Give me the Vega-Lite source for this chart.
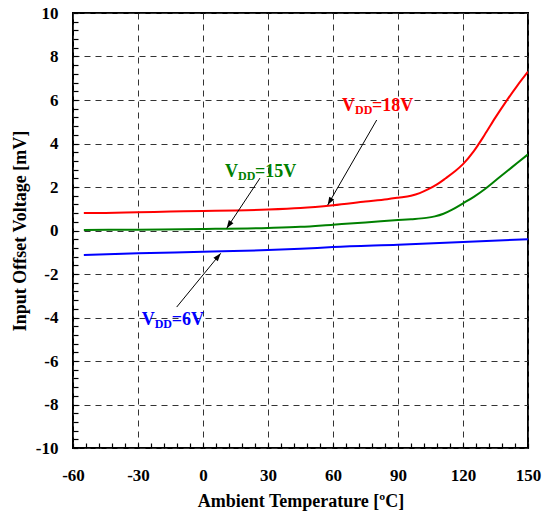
{
  "$schema": "https://vega.github.io/schema/vega-lite/v6.json",
  "width": 455,
  "height": 435,
  "autosize": {"type": "none"},
  "padding": {"left": 73, "top": 13, "right": 23, "bottom": 69},
  "background": "white",
  "config": {
    "view": {"stroke": "black", "strokeWidth": 2},
    "font": "Liberation Serif"
  },
  "datasets": {
    "curves": [
      {"series": "18V", "t": -55, "v": 0.80}, {"series": "18V", "t": -45, "v": 0.81}, {"series": "18V", "t": -30, "v": 0.84},
      {"series": "18V", "t": -15, "v": 0.87}, {"series": "18V", "t": 0, "v": 0.90}, {"series": "18V", "t": 15, "v": 0.92},
      {"series": "18V", "t": 30, "v": 0.96}, {"series": "18V", "t": 45, "v": 1.03}, {"series": "18V", "t": 60, "v": 1.16},
      {"series": "18V", "t": 75, "v": 1.33}, {"series": "18V", "t": 85, "v": 1.44}, {"series": "18V", "t": 90, "v": 1.51},
      {"series": "18V", "t": 96, "v": 1.60}, {"series": "18V", "t": 100, "v": 1.72}, {"series": "18V", "t": 104, "v": 1.90},
      {"series": "18V", "t": 108, "v": 2.12}, {"series": "18V", "t": 112, "v": 2.40}, {"series": "18V", "t": 116, "v": 2.70},
      {"series": "18V", "t": 120, "v": 3.05}, {"series": "18V", "t": 125, "v": 3.65}, {"series": "18V", "t": 130, "v": 4.40},
      {"series": "18V", "t": 135, "v": 5.20}, {"series": "18V", "t": 140, "v": 5.95}, {"series": "18V", "t": 145, "v": 6.65},
      {"series": "18V", "t": 150, "v": 7.30},
      {"series": "15V", "t": -55, "v": 0.02}, {"series": "15V", "t": -30, "v": 0.04}, {"series": "15V", "t": 0, "v": 0.07},
      {"series": "15V", "t": 30, "v": 0.12}, {"series": "15V", "t": 45, "v": 0.17}, {"series": "15V", "t": 60, "v": 0.27},
      {"series": "15V", "t": 75, "v": 0.37}, {"series": "15V", "t": 90, "v": 0.48}, {"series": "15V", "t": 96, "v": 0.52},
      {"series": "15V", "t": 103, "v": 0.58}, {"series": "15V", "t": 107, "v": 0.65}, {"series": "15V", "t": 111, "v": 0.77},
      {"series": "15V", "t": 115, "v": 0.96}, {"series": "15V", "t": 120, "v": 1.25}, {"series": "15V", "t": 125, "v": 1.55},
      {"series": "15V", "t": 130, "v": 1.90}, {"series": "15V", "t": 135, "v": 2.30}, {"series": "15V", "t": 140, "v": 2.70},
      {"series": "15V", "t": 145, "v": 3.10}, {"series": "15V", "t": 150, "v": 3.50},
      {"series": "6V", "t": -55, "v": -1.13}, {"series": "6V", "t": -30, "v": -1.05}, {"series": "6V", "t": 0, "v": -0.98},
      {"series": "6V", "t": 30, "v": -0.90}, {"series": "6V", "t": 45, "v": -0.84}, {"series": "6V", "t": 60, "v": -0.76},
      {"series": "6V", "t": 90, "v": -0.65}, {"series": "6V", "t": 120, "v": -0.53}, {"series": "6V", "t": 150, "v": -0.40}
    ],
    "labels": [
      {"series": "18V", "t": 64.15, "v": 5.49, "rest": "=18V"},
      {"series": "15V", "t": 10.15, "v": 2.47, "rest": "=15V"},
      {"series": "6V", "t": -28.3, "v": -4.34, "rest": "=6V"}
    ],
    "arrows": [
      {"series": "18V", "t": 80.17, "v": 5.08, "t2": 57.55, "v2": 1.17},
      {"series": "15V", "t": 26.31, "v": 2.41, "t2": 10.94, "v2": 0.10},
      {"series": "6V", "t": -12.14, "v": -3.52, "t2": 8.17, "v2": -1.05}
    ]
  },
  "layer": [
    {
      "data": {"name": "curves"},
      "mark": {"type": "line", "interpolate": "monotone", "strokeWidth": 2, "clip": true},
      "encoding": {
        "x": {
          "field": "t", "type": "quantitative", "title": "Ambient Temperature [ºC]",
          "scale": {"domain": [-60, 150], "nice": false, "zero": false},
          "axis": {
            "values": [-60,-54,-48,-42,-36,-30,-24,-18,-12,-6,0,6,12,18,24,30,36,42,48,54,60,66,72,78,84,90,96,102,108,114,120,126,132,138,144,150],
            "tickCount": 200,
            "labelExpr": "datum.value % 30 === 0 ? '' + datum.value : ''",
            "labelOverlap": false, "labelFlush": false,
            "labelFont": "Liberation Serif", "labelFontWeight": "bold", "labelFontSize": 17, "labelColor": "black",
            "labelPadding": 19,
            "domain": false,
            "offset": -5,
            "ticks": true, "tickSize": 5, "tickColor": "black", "tickWidth": 1.2,
            "grid": true, "gridColor": "#333333", "gridDash": [6, 5], "gridWidth": 1,
            "gridOpacity": {"condition": {"test": "datum.value % 30 === 0", "value": 1}, "value": 0},
            "titleFont": "Liberation Serif", "titleFontWeight": "bold", "titleFontSize": 18, "titleColor": "black",
            "titlePadding": 9
          }
        },
        "y": {
          "field": "v", "type": "quantitative", "title": "Input Offset Voltage [mV]",
          "scale": {"domain": [-10, 10], "nice": false, "zero": false},
          "axis": {
            "values": [-10,-9.6,-9.2,-8.8,-8.4,-8,-7.6,-7.2,-6.8,-6.4,-6,-5.6,-5.2,-4.8,-4.4,-4,-3.6,-3.2,-2.8,-2.4,-2,-1.6,-1.2,-0.8,-0.4,0,0.4,0.8,1.2,1.6,2,2.4,2.8,3.2,3.6,4,4.4,4.8,5.2,5.6,6,6.4,6.8,7.2,7.6,8,8.4,8.8,9.2,9.6,10],
            "tickCount": 200,
            "labelExpr": "datum.value % 2 === 0 ? '' + datum.value : ''",
            "labelOverlap": false, "labelFlush": false,
            "labelFont": "Liberation Serif", "labelFontWeight": "bold", "labelFontSize": 17, "labelColor": "black",
            "labelPadding": 15,
            "domain": false,
            "offset": -5,
            "ticks": true, "tickSize": 5, "tickColor": "black", "tickWidth": 1.2,
            "grid": true, "gridColor": "#333333", "gridDash": [6, 5], "gridWidth": 1,
            "gridOpacity": {"condition": {"test": "datum.value % 2 === 0", "value": 1}, "value": 0},
            "titleFont": "Liberation Serif", "titleFontWeight": "bold", "titleFontSize": 18, "titleColor": "black",
            "titlePadding": 6
          }
        },
        "color": {
          "field": "series", "type": "nominal",
          "scale": {"domain": ["18V", "15V", "6V"], "range": ["#ff0000", "#008000", "#0000ff"]},
          "legend": null
        }
      }
    },
    {
      "data": {"name": "arrows"},
      "mark": {"type": "rule", "color": "black", "strokeWidth": 1},
      "encoding": {
        "x": {"field": "t", "type": "quantitative", "title": "Ambient Temperature [ºC]"},
        "y": {"field": "v", "type": "quantitative", "title": "Input Offset Voltage [mV]"},
        "x2": {"field": "t2"},
        "y2": {"field": "v2"}
      }
    },
    {
      "data": {"name": "arrows"},
      "transform": [
        {"calculate": "atan2((datum.t2 - datum.t) * 455 / 210, (datum.v2 - datum.v) * 435 / 20) * 180 / PI", "as": "ang"}
      ],
      "mark": {"type": "point", "shape": "M0,0L0.7,2L-0.7,2Z", "filled": true, "color": "black", "size": 64, "opacity": 1},
      "encoding": {
        "x": {"field": "t2", "type": "quantitative", "title": "Ambient Temperature [ºC]"},
        "y": {"field": "v2", "type": "quantitative", "title": "Input Offset Voltage [mV]"},
        "angle": {"field": "ang", "type": "quantitative", "scale": null}
      }
    },
    {
      "data": {"name": "labels"},
      "mark": {"type": "text", "text": "V", "align": "left", "baseline": "alphabetic", "font": "Liberation Serif", "fontWeight": "bold", "fontSize": 18},
      "encoding": {
        "x": {"field": "t", "type": "quantitative", "title": "Ambient Temperature [ºC]"},
        "y": {"field": "v", "type": "quantitative", "title": "Input Offset Voltage [mV]"},
        "color": {"field": "series", "type": "nominal", "legend": null}
      }
    },
    {
      "data": {"name": "labels"},
      "mark": {"type": "text", "text": "DD", "align": "left", "baseline": "alphabetic", "dx": 13, "dy": 3, "font": "Liberation Serif", "fontWeight": "bold", "fontSize": 12},
      "encoding": {
        "x": {"field": "t", "type": "quantitative", "title": "Ambient Temperature [ºC]"},
        "y": {"field": "v", "type": "quantitative", "title": "Input Offset Voltage [mV]"},
        "color": {"field": "series", "type": "nominal", "legend": null}
      }
    },
    {
      "data": {"name": "labels"},
      "mark": {"type": "text", "align": "left", "baseline": "alphabetic", "dx": 30, "font": "Liberation Serif", "fontWeight": "bold", "fontSize": 18},
      "encoding": {
        "x": {"field": "t", "type": "quantitative", "title": "Ambient Temperature [ºC]"},
        "y": {"field": "v", "type": "quantitative", "title": "Input Offset Voltage [mV]"},
        "text": {"field": "rest"},
        "color": {"field": "series", "type": "nominal", "legend": null}
      }
    }
  ]
}
